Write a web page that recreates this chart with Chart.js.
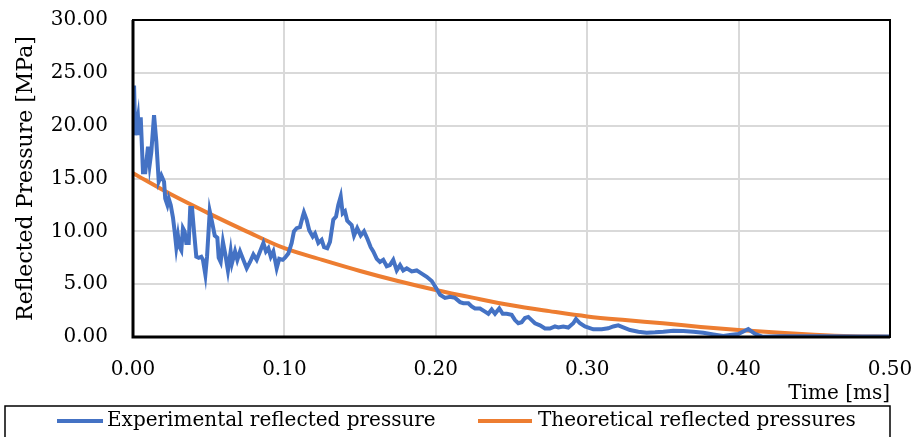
<!DOCTYPE html>
<html>
<head>
<meta charset="utf-8">
<script src="https://cdn.jsdelivr.net/npm/chart.js@4.4.1/dist/chart.umd.min.js"></script>
<style>
  html, body { margin: 0; padding: 0; background: #fff; }
  #wrap { width: 912px; height: 437px; }
</style>
</head>
<body>
<div id="wrap"><canvas id="pressureChart"></canvas></div>
<script>
// Experimental reflected pressure (time in ms, pressure in MPa)
const expTime = [
    0.0007, 0.0015, 0.0033, 0.0040, 0.0051, 0.0066, 0.0081, 0.0099, 0.0110, 0.0121,
    0.0139, 0.0154, 0.0170, 0.0187, 0.0205, 0.0213, 0.0227, 0.0236, 0.0249, 0.0264,
    0.0275, 0.0286, 0.0297, 0.0308, 0.0319, 0.0330, 0.0341, 0.0352, 0.0368, 0.0378,
    0.0390, 0.0403, 0.0418, 0.0434, 0.0451, 0.0462, 0.0478, 0.0489, 0.0507, 0.0522,
    0.0540, 0.0557, 0.0566, 0.0579, 0.0594, 0.0610, 0.0627, 0.0645, 0.0654, 0.0674,
    0.0689, 0.0707, 0.0729, 0.0751, 0.0773, 0.0795, 0.0817, 0.0839, 0.0861, 0.0878,
    0.0894, 0.0910, 0.0927, 0.0949, 0.0966, 0.0989, 0.1004, 0.1026, 0.1048, 0.1063,
    0.1081, 0.1103, 0.1121, 0.1129, 0.1147, 0.1164, 0.1187, 0.1202, 0.1224, 0.1246,
    0.1262, 0.1283, 0.1301, 0.1323, 0.1341, 0.1356, 0.1372, 0.1385, 0.1400, 0.1415,
    0.1444, 0.1460, 0.1481, 0.1504, 0.1526, 0.1548, 0.1570, 0.1587, 0.1610, 0.1631,
    0.1653, 0.1676, 0.1697, 0.1719, 0.1742, 0.1764, 0.1785, 0.1808, 0.1841, 0.1874,
    0.1907, 0.1940, 0.1973, 0.1995, 0.2028, 0.2061, 0.2094, 0.2127, 0.2160, 0.2182,
    0.2215, 0.2237, 0.2259, 0.2292, 0.2325, 0.2347, 0.2369, 0.2391, 0.2419, 0.2442,
    0.2468, 0.2501, 0.2523, 0.2545, 0.2567, 0.2589, 0.2611, 0.2633, 0.2655, 0.2688,
    0.2721, 0.2754, 0.2787, 0.2809, 0.2842, 0.2875, 0.2908, 0.2926, 0.2952, 0.2985,
    0.3040, 0.3096, 0.3139, 0.3172, 0.3205, 0.3238, 0.3283, 0.3338, 0.3393, 0.3448,
    0.3503, 0.3569, 0.3635, 0.3701, 0.3767, 0.3833, 0.3899, 0.3943, 0.3998, 0.4064,
    0.4108, 0.4161, 0.4273, 0.4538, 0.4802, 0.5000
];
const expPressure = [
    23.8, 19.1, 20.8, 19.1, 20.8, 15.6, 15.6, 18.0, 16.3, 17.5,
    21.0, 18.5, 14.7, 15.3, 14.7, 13.1, 12.5, 13.1, 12.5, 11.3,
    10.0, 8.5, 9.6, 8.5, 8.2, 10.3, 10.0, 8.9, 8.9, 12.2,
    12.2, 10.0, 7.6, 7.5, 7.6, 7.3, 5.9, 7.6, 11.9, 10.9,
    9.6, 9.4, 7.5, 7.1, 9.0, 7.8, 6.3, 8.1, 7.0, 8.1,
    7.3, 8.1, 7.3, 6.5, 7.1, 7.8, 7.3, 8.1, 8.9, 8.1,
    8.4, 7.6, 8.1, 6.5, 7.4, 7.3, 7.5, 7.9, 8.9, 10.0,
    10.3, 10.4, 11.4, 11.8, 11.1, 10.1, 9.5, 9.8, 8.9, 9.2,
    8.5, 8.4, 9.0, 11.1, 11.4, 12.5, 13.3, 11.7, 11.9, 11.0,
    10.6, 9.6, 10.3, 9.6, 10.0, 9.3, 8.5, 8.1, 7.4, 7.1,
    7.3, 6.7, 6.8, 7.3, 6.3, 6.8, 6.3, 6.5, 6.2, 6.3,
    6.0, 5.7, 5.3, 4.8, 4.0, 3.7, 3.8, 3.7, 3.3, 3.2,
    3.2, 2.9, 2.7, 2.7, 2.4, 2.2, 2.6, 2.2, 2.7, 2.2,
    2.2, 2.1, 1.6, 1.3, 1.4, 1.8, 1.9, 1.6, 1.3, 1.1,
    0.8, 0.8, 1.0, 0.9, 1.0, 0.9, 1.3, 1.7, 1.3, 1.0,
    0.73, 0.73, 0.82, 1.0, 1.1, 0.92, 0.66, 0.5, 0.41, 0.44,
    0.5, 0.6, 0.57, 0.5, 0.41, 0.25, 0.1, 0.19, 0.28, 0.75,
    0.3, 0.02, 0.08, 0.08, 0.05, 0.05
];

// Theoretical reflected pressure curve
const theoTime = [0, 0.025, 0.05, 0.075, 0.1, 0.125, 0.15, 0.175, 0.2, 0.225, 0.25,
                  0.275, 0.3, 0.325, 0.35, 0.375, 0.4, 0.425, 0.45, 0.475, 0.5];
const theoPressure = [15.5, 13.5, 11.7, 10.0, 8.4, 7.3, 6.25, 5.3, 4.45, 3.7, 3.0,
                      2.45, 1.95, 1.6, 1.3, 0.95, 0.66, 0.42, 0.22, 0.08, 0.02];

const seriesNames = ['Experimental reflected pressure', 'Theoretical reflected pressures'];
const xTicks = [0, 0.1, 0.2, 0.3, 0.4, 0.5];
const yTicks = [0, 5, 10, 15, 20, 25, 30];

const toPoints = (xs, ys) => xs.map((x, i) => ({ x: x, y: ys[i] }));

const FONT = 'DejaVu Serif';

// black frame round the plot area
const framePlugin = {
    id: 'frame',
    afterDatasetsDraw(chart) {
        const { ctx, chartArea: a } = chart;
        ctx.save();
        ctx.strokeStyle = '#000';
        ctx.lineWidth = 2;
        ctx.strokeRect(a.left, a.top, a.right - a.left, a.bottom - a.top);
        ctx.lineWidth = 3;
        ctx.beginPath();
        ctx.moveTo(a.left, a.top);
        ctx.lineTo(a.left, a.bottom);
        ctx.lineTo(a.right, a.bottom);
        ctx.stroke();
        ctx.restore();
    }
};

// boxed legend along the bottom edge
const boxLegend = {
    id: 'boxLegend',
    afterDraw(chart) {
        const ctx = chart.ctx;
        const y = 421;
        const items = [
            { x0: 57, x1: 103, tx: 107 },
            { x0: 478, x1: 532, tx: 538 }
        ];
        ctx.save();
        ctx.strokeStyle = '#000';
        ctx.lineWidth = 1.5;
        ctx.strokeRect(5, 406, 885, 50);
        ctx.font = '20px "' + FONT + '"';
        ctx.textBaseline = 'middle';
        ctx.fillStyle = '#000';
        chart.data.datasets.forEach((ds, i) => {
            const it = items[i];
            ctx.strokeStyle = ds.borderColor;
            ctx.lineWidth = 4;
            ctx.beginPath();
            ctx.moveTo(it.x0, y);
            ctx.lineTo(it.x1, y);
            ctx.stroke();
            ctx.fillText(ds.label, it.tx, y);
        });
        ctx.restore();
    }
};

new Chart(document.getElementById('pressureChart').getContext('2d'), {
    type: 'line',
    data: {
        datasets: [
            {
                label: seriesNames[0],
                data: toPoints(expTime, expPressure),
                borderColor: '#4472C4',
                borderWidth: 4,
                pointRadius: 0,
                tension: 0
            },
            {
                label: seriesNames[1],
                data: toPoints(theoTime, theoPressure),
                borderColor: '#ED7D31',
                borderWidth: 4,
                pointRadius: 0,
                cubicInterpolationMode: 'monotone'
            }
        ]
    },
    options: {
        responsive: true,
        maintainAspectRatio: false,
        animation: false,
        layout: { padding: { left: 1, right: 22, top: 20, bottom: 31 } },
        plugins: {
            legend: { display: false },
            tooltip: { enabled: false }
        },
        scales: {
            x: {
                type: 'linear',
                min: 0,
                max: 0.5,
                afterBuildTicks: (axis) => { axis.ticks = xTicks.map(v => ({ value: v })); },
                afterFit: (axis) => {
                    axis.height = 69;
                    axis.paddingLeft = 0;
                    axis.paddingRight = 0;
                },
                grid: { color: '#d9d9d9', lineWidth: 2, drawTicks: false },
                border: { display: false },
                ticks: {
                    color: '#000',
                    padding: 21,
                    maxRotation: 0,
                    font: { family: FONT, size: 20 },
                    callback: (v) => v.toFixed(2)
                },
                title: {
                    display: true,
                    text: 'Time [ms]',
                    align: 'end',
                    color: '#000',
                    padding: { top: 0, bottom: 0 },
                    font: { family: FONT, size: 20 }
                }
            },
            y: {
                min: 0,
                max: 30,
                afterBuildTicks: (axis) => { axis.ticks = yTicks.map(v => ({ value: v })); },
                afterFit: (axis) => {
                    axis.width = 132;
                    axis.paddingTop = 0;
                    axis.paddingBottom = 0;
                },
                grid: { color: '#d9d9d9', lineWidth: 2, drawTicks: false },
                border: { display: false },
                ticks: {
                    color: '#000',
                    padding: 25,
                    font: { family: FONT, size: 20 },
                    callback: (v) => v.toFixed(2)
                },
                title: {
                    display: true,
                    text: 'Reflected Pressure [MPa]',
                    color: '#000',
                    padding: { top: 12, bottom: 12 },
                    font: { family: FONT, size: 22 }
                }
            }
        }
    },
    plugins: [framePlugin, boxLegend]
});
</script>
</body>
</html>
